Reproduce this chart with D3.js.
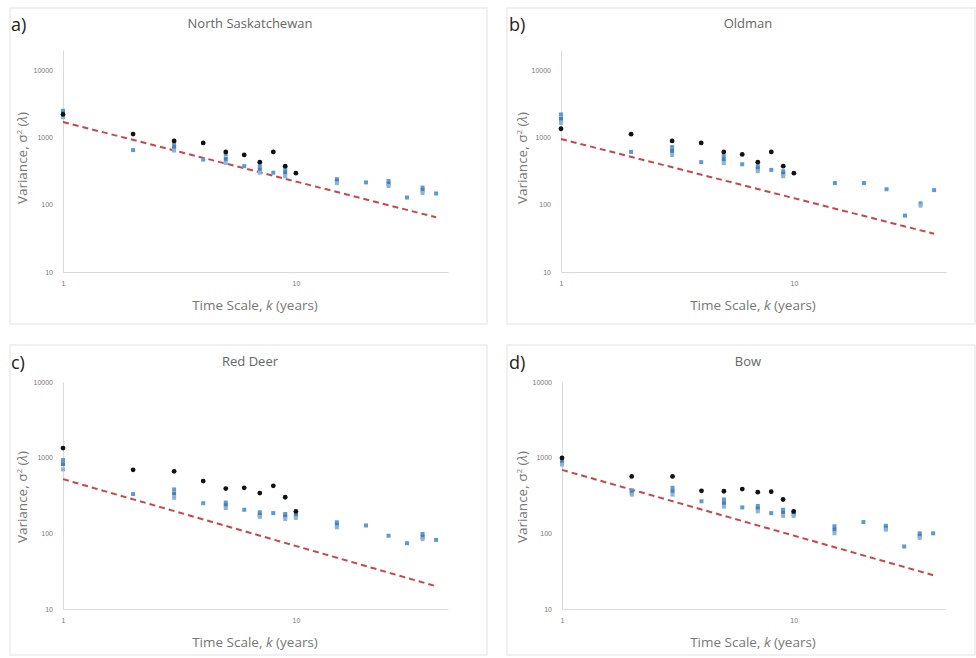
<!DOCTYPE html>
<html><head><meta charset="utf-8">
<script src="https://cdn.jsdelivr.net/npm/d3@7"></script>
<style>body{margin:0;background:#fff;}svg{display:block;font-family:"Open Sans","Liberation Sans",sans-serif;}</style>
</head><body>
<svg id="c" width="976" height="658"></svg>
<script>
// ---- data ----
const kValues = [1,2,3,4,5,6,7,8,9,10,15,20,25,30,35,40];
const kBlack = [1,2,3,4,5,6,7,8,9,10];
const yTicks = [10,100,1000,10000];
const xTicks = [1,10];
const xTickLabels = ["1","10"];
const panelTitles = ["North Saskatchewan","Oldman","Red Deer","Bow"];
const panelLetters = ["a)","b)","c)","d)"];

const nsBlack = [2200,1125,890,830,610,550,430,610,375,295];
const nsBlue1 = [2500,650,820,470,560,375,375,300,340,null,240,215,225,128,180,147];
const nsBlue2 = [2300,null,720,null,480,null,330,null,300,null,225,null,205,null,165,null];
const nsBlue3 = [2000,null,640,null,420,null,300,null,265,null,210,null,190,null,150,null];
const nsTrend = [1700,65];

const omBlack = [1350,1120,890,830,610,560,430,610,375,295];
const omBlue1 = [2200,610,720,430,530,400,375,330,315,null,210,210,170,69,105,165];
const omBlue2 = [1900,null,630,null,470,null,345,null,290,null,null,null,null,null,null,null];
const omBlue3 = [1650,null,550,null,415,null,315,null,265,null,null,null,null,null,97,null];
const omTrend = [950,37];

const rdBlack = [1340,690,660,490,390,400,340,425,300,195];
const rdBlue1 = [930,330,380,250,255,205,190,185,180,180,140,127,93,74,98,82];
const rdBlue2 = [820,null,335,null,235,null,175,null,167,170,130,null,null,null,90,null];
const rdBlue3 = [700,null,295,null,215,null,165,null,155,160,120,null,null,null,84,null];
const rdTrend = [520,20];

const bwBlack = [990,565,565,365,360,385,350,355,280,195];
const bwBlue1 = [890,370,400,265,280,220,230,185,205,190,124,141,126,67,100,100];
const bwBlue2 = [850,345,360,null,250,null,212,null,187,180,112,null,118,null,93,null];
const bwBlue3 = [810,325,325,null,225,null,195,null,170,170,100,null,112,null,87,null];
const bwTrend = [690,28];
const trendK = [1,40];

// ---- layout ----
const panels = [
  {box:[10,8,477,316], x1:63, xEnd:448, yBot:272, yTop:50, yMax:20000, title:[250,28], lab:[11,31], xt:[255,310], yt:[22,158], black:nsBlack, blues:[nsBlue1,nsBlue2,nsBlue3], trend:nsTrend},
  {box:[507,8,468,316], x1:561, xEnd:946, yBot:272, yTop:50, yMax:20000, title:[748,28], lab:[509,31], xt:[753,310], yt:[522,158], black:omBlack, blues:[omBlue1,omBlue2,omBlue3], trend:omTrend},
  {box:[10,345,477,310], x1:63, xEnd:448, yBot:609, yTop:382, yMax:10000, title:[250,366], lab:[11,369], xt:[255,647], yt:[22,497], black:rdBlack, blues:[rdBlue1,rdBlue2,rdBlue3], trend:rdTrend},
  {box:[507,345,468,310], x1:562, xEnd:945, yBot:609, yTop:382, yMax:10000, title:[748,366], lab:[509,369], xt:[753,647], yt:[522,497], black:bwBlack, blues:[bwBlue1,bwBlue2,bwBlue3], trend:bwTrend}
];
const blueColors = ["#5b9bd5","#4a7fb5","#8ab4dc"];

const svg = d3.select("#c");
panels.forEach((p,i)=>{
  const g = svg.append("g");
  g.append("rect").attr("x",p.box[0]).attr("y",p.box[1]).attr("width",p.box[2]).attr("height",p.box[3])
    .attr("fill","#fff").attr("stroke","#e3e3e3").attr("stroke-width",1);
  const x = d3.scaleLog().domain([1,45]).range([p.x1,p.xEnd]);
  const y = d3.scaleLog().domain([10,p.yMax]).range([p.yBot,p.yTop]);

  // axes
  const ya = g.append("g").attr("transform",`translate(${p.x1},0)`)
    .call(d3.axisLeft(y).tickValues(yTicks).tickFormat(d3.format("d")).tickSize(0).tickPadding(10));
  ya.select(".domain").attr("stroke","#d9d9d9");
  ya.selectAll("text").attr("fill","#777").style("font-size","7px");
  const xa = g.append("g").attr("transform",`translate(0,${p.yBot})`)
    .call(d3.axisBottom(x).tickValues(xTicks).tickFormat((d,j)=>xTickLabels[j]).tickSize(0).tickPadding(9));
  xa.select(".domain").attr("stroke","#d9d9d9");
  xa.selectAll("text").attr("fill","#777").style("font-size","7px");

  // trend line
  g.append("path").datum(trendK.map((k,j)=>[k,p.trend[j]]))
    .attr("d",d3.line().x(d=>x(d[0])).y(d=>y(d[1])))
    .attr("fill","none").attr("stroke","#c8474b").attr("stroke-width",2).attr("stroke-dasharray","6,4");

  // blue points
  p.blues.forEach((arr,bi)=>{
    g.selectAll(null).data(kValues.map((k,j)=>[k,arr[j]]).filter(d=>d[1]!=null)).enter()
      .append("rect").attr("x",d=>x(d[0])-2).attr("y",d=>y(d[1])-2).attr("width",4).attr("height",4)
      .attr("fill",blueColors[bi]);
  });
  // black points
  g.selectAll(null).data(kBlack.map((k,j)=>[k,p.black[j]])).enter()
    .append("circle").attr("cx",d=>x(d[0])).attr("cy",d=>y(d[1])).attr("r",2.4).attr("fill","#111");

  // text
  g.append("text").attr("x",p.title[0]).attr("y",p.title[1]).attr("text-anchor","middle")
    .attr("fill","#666").style("font-size","13px").text(panelTitles[i]);
  g.append("text").attr("x",p.lab[0]).attr("y",p.lab[1])
    .attr("fill","#222").style("font-size","18px").text(panelLetters[i]);
  g.append("text").attr("x",p.xt[0]).attr("y",p.xt[1]).attr("text-anchor","middle")
    .attr("fill","#777").style("font-size","13.5px")
    .html('Time Scale, <tspan font-style="italic">k</tspan> (years)');
  g.append("text").attr("transform",`translate(${p.yt[0]},${p.yt[1]}) rotate(-90)`).attr("text-anchor","middle")
    .attr("dy","0.35em").attr("fill","#777").style("font-size","13.5px")
    .html('Variance, σ<tspan dy="-5" font-size="8px">2</tspan><tspan dy="5"> (</tspan><tspan font-style="italic">λ</tspan>)');
});
</script>
</body></html>
